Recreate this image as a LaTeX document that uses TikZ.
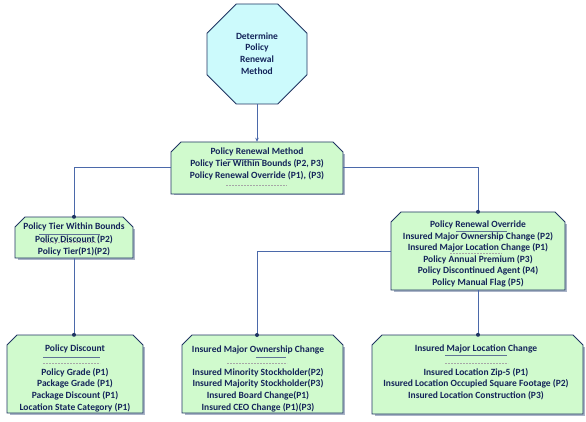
\documentclass[tikz,border=0pt]{standalone}
\usepackage{fontspec}
\setmainfont{Carlito}
\usetikzlibrary{arrows.meta}
\definecolor{boxfill}{RGB}{208,250,205}
\definecolor{octfill}{RGB}{204,250,252}
\definecolor{edgec}{RGB}{31,52,98}
\definecolor{txtc}{RGB}{20,36,90}
\definecolor{connc}{RGB}{75,105,170}
\definecolor{ulc}{RGB}{95,115,150}
\definecolor{shadc}{RGB}{170,180,200}
\tikzset{
  boxsty/.style={fill=boxfill, draw=edgec, line width=0.9pt, line join=miter},
  octsty/.style={fill=octfill, draw=edgec, line width=0.9pt},
  conn/.style={draw=connc, line width=1pt},
  txt/.style={text=txtc, font=\bfseries\fontsize{9.5}{11.7}\selectfont, align=center, inner sep=0pt},
  ulsty/.style={draw=ulc, line width=0.9pt},
  dashsty/.style={draw=gray!70, line width=0.4pt, dash pattern=on 1.8pt off 1.2pt},
  dotsty/.style={fill=edgec}
}
\newcommand\chambox[5]{%
  \fill[shadc] ({#2+3},#5) rectangle ({#4+1.5},{#5+1.5});
  \fill[shadc] (#4,{#3+12}) rectangle ({#4+1.5},{#5+1.5});
  \filldraw[boxsty] (#2,#5) -- (#2,{#3+10}) -- ({#2+10},#3) -- ({#4-10},#3) -- (#4,{#3+10}) -- (#4,#5) -- cycle;
  \node[inner sep=0pt, minimum width={(#4-#2)*1pt}, minimum height={(#5-#3)*1pt}] (#1) at ({(#2+#4)/2},{(#3+#5)/2}) {};
}
\begin{document}
\begin{tikzpicture}[x=1pt,y=-1pt]
\useasboundingbox (0,0) rectangle (586,422);
% octagon
\filldraw[octsty] (236.3,4) -- (277.7,4) -- (307,33.3) -- (307,74.7) -- (277.7,104) -- (236.3,104) -- (207,74.7) -- (207,33.3) -- cycle;
\node[inner sep=0pt, minimum width=100pt, minimum height=100pt] (oct) at (257,54) {};
\node[txt] (octtxt) at (257,53.5) {Determine\\Policy\\Renewal\\Method};
% boxes
\chambox{top}{171}{142}{343}{194}
\chambox{lb}{15}{217}{133}{258}
\chambox{rb}{391}{212}{565}{290}
\chambox{pd}{7}{335}{143}{413}
\chambox{mo}{182}{335}{343}{413}
\chambox{ml}{372}{335}{583}{414}
\coordinate (moin) at (257,335);
% connectors
\draw[conn,-{Stealth[length=4pt,width=3.5pt]}] (oct.south) -- (top.north);
\draw[conn] (top.west) -| (lb.north);
\draw[conn] (top.east) -| (rb.north);
\draw[conn] (lb.south) -- (lb.south |- pd.north);
\draw[conn] (rb.west) -| (moin);
\draw[conn] (rb.south) -- (rb.south |- ml.north);
\fill[dotsty] (lb.north) circle (2pt);
\fill[dotsty] (rb.north) circle (2pt);
\fill[dotsty] (lb.south |- pd.north) circle (2pt);
\fill[dotsty] (moin) circle (2pt);
\fill[dotsty] (rb.south |- ml.north) circle (2pt);
% top box text
\node[txt] (toptxt) at (257,164) {Policy Renewal Method\\Policy Tier Within Bounds (P2, P3)\\Policy Renewal Override (P1), (P3)};
\draw[ulsty] (226,159) -- (262,159);
\draw[dashsty] (226,185) -- (287,185);
% left box
\node[txt, font=\bfseries\fontsize{9.5}{12.5}\selectfont] (lbtxt) at (74,239.5) {Policy Tier Within Bounds\\Policy Discount (P2)\\Policy Tier(P1)(P2)};
\draw[ulsty] (39,234) -- (100,234);
\draw[dashsty] (43,242) -- (97,242);
% right box
\node[txt, font=\bfseries\fontsize{9.5}{11.6}\selectfont] (rbtxt) at (478,254) {Policy Renewal Override\\Insured Major Ownership Change (P2)\\Insured Major Location Change (P1)\\Policy Annual Premium (P3)\\Policy Discontinued Agent (P4)\\Policy Manual Flag (P5)};
\draw[ulsty] (456,231) -- (507,231);
\draw[dashsty] (450,253) -- (502,253);
% bottom left
\node[txt] (pdtitle) at (75,349) {Policy Discount};
\draw[ulsty] (43,357) -- (100,357);
\draw[dashsty] (43,363) -- (100,363);
\node[txt] (pdtxt) at (75,390) {Policy Grade (P1)\\Package Grade (P1)\\Package Discount (P1)\\Location State Category (P1)};
% bottom middle
\node[txt] (motitle) at (258,349.5) {Insured Major Ownership Change};
\draw[ulsty] (256,357) -- (286,357);
\draw[dashsty] (227,363) -- (287,363);
\node[txt] (motxt) at (258,390) {Insured Minority Stockholder(P2)\\Insured Majority Stockholder(P3)\\Insured Board Change(P1)\\Insured CEO Change (P1)(P3)};
% bottom right
\node[txt] (mltitle) at (476,349) {Insured Major Location Change};
\draw[ulsty] (445,355) -- (507,355);
\draw[dashsty] (445,363) -- (508,363);
\node[txt] (mltxt) at (476,384) {Insured Location  Zip-5 (P1)\\Insured Location Occupied Square Footage (P2)\\Insured Location Construction (P3)};
\end{tikzpicture}
\end{document}
